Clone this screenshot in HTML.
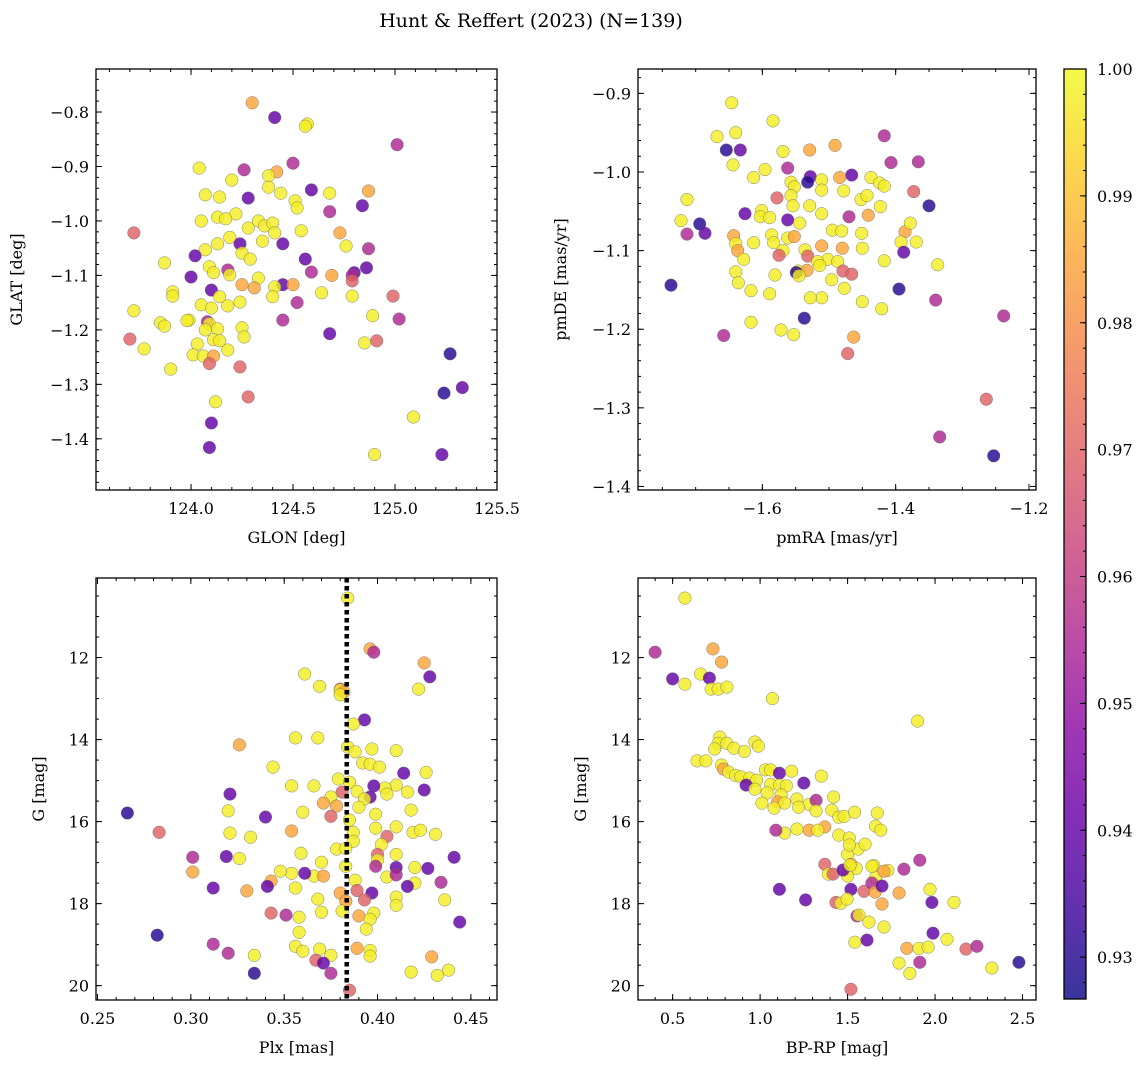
<!DOCTYPE html>
<html><head><meta charset="utf-8"><style>
html,body{margin:0;padding:0;background:#fff;}
svg{display:block;font-family:"DejaVu Serif","Liberation Serif",serif;}
</style></head><body>
<svg id="fig" width="1148" height="1068" viewBox="0 0 1148 1068" xmlns="http://www.w3.org/2000/svg">
<text x="531" y="27" font-size="19" text-anchor="middle">Hunt &amp; Reffert (2023) (N=139)</text>
</svg>
<script>
// ---- data ----
const p1x=[124.30,124.41,125.01,124.57,124.56,124.50,124.04,124.26,124.42,124.38,124.20,124.38,124.87,124.59,124.68,124.07,124.14,124.28,124.44,124.51,124.52,124.84,124.68,124.13,124.22,124.17,124.33,124.05,124.36,124.40,124.28,123.72,124.73,124.41,124.54,124.19,124.35,124.24,124.45,124.13,124.87,124.76,124.07,124.25,124.02,124.56,124.29,123.87,124.09,124.86,124.80,124.79,124.69,124.59,124.18,124.11,124.00,124.33,124.19,124.79,124.25,124.45,124.41,124.31,124.50,124.10,124.64,123.91,123.91,124.79,124.99,124.14,124.40,124.05,124.24,124.52,124.18,124.10,123.72,124.89,125.02,124.45,123.99,124.08,124.09,123.85,123.87,124.13,124.25,124.07,123.98,124.68,124.26,123.70,124.11,124.14,124.91,124.85,124.03,124.18,123.77,124.01,124.06,125.27,124.11,124.09,124.24,123.90,125.33,125.24,124.28,124.12,125.09,124.10,124.09,124.90,125.23];
const p1y=[-0.783,-0.81,-0.86,-0.822,-0.826,-0.894,-0.903,-0.906,-0.91,-0.917,-0.925,-0.938,-0.945,-0.943,-0.949,-0.952,-0.956,-0.958,-0.949,-0.963,-0.976,-0.972,-0.983,-0.993,-0.987,-0.996,-1.0,-1.0,-1.009,-1.004,-1.013,-1.022,-1.022,-1.022,-1.018,-1.03,-1.037,-1.042,-1.042,-1.042,-1.051,-1.046,-1.053,-1.059,-1.064,-1.07,-1.07,-1.077,-1.084,-1.086,-1.095,-1.10,-1.10,-1.094,-1.09,-1.095,-1.103,-1.105,-1.099,-1.11,-1.117,-1.117,-1.121,-1.123,-1.117,-1.127,-1.132,-1.13,-1.138,-1.138,-1.138,-1.139,-1.139,-1.154,-1.149,-1.15,-1.156,-1.16,-1.165,-1.174,-1.18,-1.182,-1.182,-1.185,-1.189,-1.187,-1.193,-1.198,-1.196,-1.2,-1.183,-1.207,-1.213,-1.217,-1.218,-1.22,-1.22,-1.224,-1.226,-1.237,-1.235,-1.246,-1.248,-1.244,-1.248,-1.262,-1.268,-1.272,-1.306,-1.316,-1.323,-1.332,-1.36,-1.371,-1.416,-1.429,-1.429];
const p1c=[.985,.94,.955,.998,.998,.955,.998,.955,.985,.998,.998,.998,.985,.94,.998,.998,.998,.94,.998,.998,.998,.94,.955,.998,.998,.998,.998,.998,.998,.998,.998,.97,.985,.998,.998,.998,.998,.94,.94,.998,.955,.998,.998,.998,.94,.94,.998,.998,.998,.94,.94,.955,.985,.955,.955,.998,.94,.998,.998,.97,.985,.94,.998,.985,.985,.94,.998,.998,.998,.998,.97,.998,.998,.998,.998,.955,.998,.998,.998,.998,.955,.955,.998,.955,.998,.998,.998,.998,.998,.998,.998,.94,.998,.97,.998,.998,.97,.998,.998,.998,.998,.998,.998,.93,.985,.97,.97,.998,.94,.93,.97,.998,.998,.94,.94,.998,.94];

const p2x=[-1.646,-1.584,-1.668,-1.640,-1.654,-1.633,-1.569,-1.529,-1.491,-1.417,-1.562,-1.644,-1.407,-1.366,-1.466,-1.613,-1.596,-1.528,-1.532,-1.511,-1.557,-1.484,-1.437,-1.424,-1.417,-1.373,-1.478,-1.552,-1.511,-1.557,-1.578,-1.713,-1.452,-1.443,-1.350,-1.626,-1.601,-1.554,-1.529,-1.511,-1.470,-1.441,-1.423,-1.603,-1.589,-1.562,-1.544,-1.722,-1.694,-1.495,-1.481,-1.451,-1.386,-1.586,-1.643,-1.713,-1.686,-1.562,-1.552,-1.378,-1.369,-1.392,-1.640,-1.613,-1.583,-1.511,-1.480,-1.450,-1.637,-1.569,-1.536,-1.388,-1.575,-1.532,-1.502,-1.517,-1.487,-1.417,-1.628,-1.514,-1.337,-1.546,-1.479,-1.466,-1.640,-1.533,-1.549,-1.581,-1.545,-1.636,-1.737,-1.496,-1.477,-1.395,-1.617,-1.589,-1.511,-1.528,-1.450,-1.340,-1.421,-1.537,-1.617,-1.238,-1.572,-1.553,-1.658,-1.463,-1.472,-1.264,-1.334,-1.253];
const p2y=[-0.912,-0.935,-0.955,-0.950,-0.972,-0.972,-0.974,-0.972,-0.966,-0.954,-0.995,-0.991,-0.988,-0.987,-1.004,-1.007,-0.997,-1.006,-1.013,-1.010,-1.013,-1.007,-1.007,-1.014,-1.018,-1.025,-1.024,-1.019,-1.023,-1.030,-1.033,-1.035,-1.035,-1.030,-1.043,-1.053,-1.049,-1.043,-1.043,-1.053,-1.057,-1.055,-1.044,-1.057,-1.058,-1.061,-1.065,-1.062,-1.066,-1.074,-1.075,-1.078,-1.076,-1.080,-1.081,-1.079,-1.078,-1.084,-1.082,-1.065,-1.089,-1.089,-1.091,-1.090,-1.090,-1.094,-1.097,-1.097,-1.100,-1.100,-1.099,-1.102,-1.106,-1.107,-1.111,-1.114,-1.114,-1.113,-1.111,-1.119,-1.118,-1.126,-1.126,-1.130,-1.127,-1.125,-1.128,-1.131,-1.132,-1.141,-1.144,-1.137,-1.148,-1.149,-1.151,-1.155,-1.160,-1.160,-1.165,-1.163,-1.174,-1.186,-1.191,-1.183,-1.201,-1.207,-1.208,-1.210,-1.231,-1.289,-1.337,-1.361];
const p2c=[.998,.998,.998,.998,.93,.94,.998,.985,.985,.955,.955,.998,.955,.955,.94,.998,.998,.94,.93,.998,.998,.985,.998,.998,.998,.97,.998,.998,.998,.998,.97,.998,.998,.998,.93,.94,.998,.998,.998,.998,.955,.985,.998,.998,.998,.94,.998,.998,.93,.998,.998,.998,.985,.998,.985,.955,.94,.998,.985,.998,.998,.998,.998,.998,.998,.985,.985,.998,.985,.998,.998,.94,.97,.97,.998,.998,.998,.998,.998,.998,.998,.998,.97,.97,.998,.985,.93,.998,.998,.998,.93,.998,.998,.93,.998,.998,.998,.998,.998,.955,.998,.93,.998,.955,.998,.998,.955,.985,.97,.97,.955,.93];

const p3x=[0.384,0.396,0.398,0.425,0.428,0.361,0.369,0.380,0.380,0.422,0.382,0.380,0.393,0.387,0.356,0.368,0.384,0.388,0.397,0.410,0.326,0.392,0.396,0.401,0.344,0.414,0.426,0.379,0.410,0.385,0.389,0.404,0.354,0.398,0.396,0.405,0.416,0.366,0.381,0.321,0.393,0.375,0.425,0.418,0.399,0.390,0.320,0.378,0.371,0.360,0.266,0.375,0.385,0.399,0.340,0.387,0.405,0.410,0.419,0.431,0.423,0.354,0.387,0.402,0.321,0.283,0.332,0.400,0.378,0.370,0.383,0.383,0.359,0.400,0.410,0.410,0.399,0.354,0.348,0.366,0.388,0.371,0.343,0.301,0.319,0.326,0.361,0.420,0.441,0.427,0.405,0.420,0.434,0.341,0.301,0.410,0.312,0.330,0.380,0.397,0.416,0.389,0.410,0.356,0.368,0.383,0.436,0.410,0.393,0.343,0.351,0.358,0.370,0.398,0.390,0.381,0.396,0.444,0.394,0.358,0.356,0.282,0.312,0.360,0.369,0.389,0.320,0.396,0.334,0.367,0.375,0.396,0.429,0.371,0.334,0.375,0.418,0.438,0.385,0.432];
const p3y=[10.55,11.79,11.87,12.13,12.47,12.40,12.70,12.77,12.79,12.77,12.84,12.91,13.52,13.62,13.96,13.96,14.18,14.30,14.23,14.27,14.13,14.57,14.60,14.67,14.67,14.82,14.80,14.96,15.11,15.04,15.26,15.18,15.13,15.13,15.40,15.33,15.28,15.13,15.28,15.33,15.45,15.40,15.23,15.72,15.82,15.65,15.74,15.62,15.55,15.77,15.79,15.87,15.96,16.16,15.89,16.26,16.36,16.13,16.26,16.31,16.21,16.23,16.48,16.56,16.28,16.26,16.38,16.80,16.67,16.99,16.65,17.09,16.77,16.94,16.80,17.12,17.09,17.26,17.21,17.33,17.43,17.33,17.45,16.87,16.85,16.90,17.26,17.12,16.87,17.14,17.35,17.50,17.48,17.58,17.23,17.30,17.62,17.69,17.74,17.74,17.58,17.68,17.84,17.62,17.89,17.94,17.91,18.04,17.91,18.23,18.28,18.33,18.21,18.23,18.30,18.18,18.38,18.45,18.62,18.70,19.04,18.77,18.99,19.16,19.11,19.09,19.21,19.14,19.26,19.38,19.26,19.28,19.30,19.45,19.70,19.70,19.67,19.62,20.11,19.75];
const p3c=[.998,.985,.955,.985,.94,.998,.998,.97,.998,.998,.985,.998,.94,.998,.998,.998,.998,.998,.998,.998,.985,.998,.998,.998,.998,.94,.998,.998,.998,.998,.998,.998,.998,.94,.94,.998,.998,.998,.97,.94,.998,.998,.94,.998,.998,.998,.998,.985,.985,.998,.93,.97,.998,.998,.94,.998,.97,.998,.998,.998,.998,.985,.998,.998,.998,.97,.998,.97,.998,.998,.998,.998,.998,.998,.998,.94,.955,.998,.998,.998,.998,.985,.985,.955,.94,.998,.94,.998,.94,.94,.998,.998,.955,.94,.985,.955,.94,.985,.985,.94,.94,.97,.998,.998,.998,.985,.998,.998,.97,.97,.955,.998,.998,.998,.985,.998,.998,.94,.998,.998,.998,.93,.955,.998,.998,.985,.955,.998,.998,.97,.998,.998,.985,.94,.93,.955,.998,.998,.97,.998];

const p4x=[0.57,0.40,0.73,0.78,0.50,0.66,0.57,0.71,0.72,0.76,0.81,1.07,1.90,0.77,0.76,0.81,0.85,0.74,0.64,0.69,0.97,0.99,0.91,0.78,0.79,0.82,0.86,1.03,1.06,1.11,1.18,0.89,0.94,0.98,0.92,1.06,1.11,1.15,1.35,1.25,0.97,1.04,1.12,1.10,1.21,1.28,1.32,1.42,1.14,1.22,1.01,1.08,1.32,1.41,1.45,1.48,1.54,1.67,1.66,1.69,1.37,1.28,1.14,1.21,1.33,1.45,1.51,1.09,1.50,1.56,1.60,1.51,1.52,1.65,1.51,1.55,1.50,1.66,1.73,1.37,1.39,1.11,1.26,1.417,1.474,1.514,1.639,1.708,1.822,1.913,1.519,1.594,1.639,1.657,1.697,1.794,1.971,1.982,2.108,1.434,1.462,1.497,1.697,1.554,1.565,1.622,1.708,1.542,1.611,1.988,2.068,1.839,1.908,1.960,2.177,2.239,1.794,1.913,1.856,2.325,2.479,1.519];
const p4y=[10.55,11.87,11.79,12.11,12.52,12.40,12.65,12.50,12.77,12.77,12.72,13.0,13.55,13.94,14.09,14.09,14.21,14.23,14.52,14.52,14.06,14.16,14.29,14.62,14.72,14.79,14.87,14.74,14.74,14.82,14.77,14.91,14.94,14.99,15.11,15.09,15.11,15.13,14.89,15.06,15.21,15.30,15.35,15.52,15.45,15.58,15.48,15.40,15.55,15.65,15.55,15.67,15.74,15.72,15.89,15.87,15.77,15.79,16.11,16.21,16.13,16.21,16.28,16.18,16.21,16.33,16.40,16.21,16.80,16.67,16.55,16.57,17.04,17.07,17.14,17.14,17.33,17.36,17.19,17.04,17.28,17.65,17.91,17.28,17.18,17.06,17.09,17.21,17.16,16.94,17.65,17.70,17.50,17.72,17.57,17.74,17.65,17.97,17.97,17.97,17.99,17.89,18.01,18.30,18.28,18.45,18.57,18.94,18.89,18.72,18.87,19.09,19.09,19.06,19.11,19.04,19.45,19.43,19.70,19.57,19.43,20.09];
const p4c=[.998,.955,.985,.985,.94,.998,.998,.94,.998,.998,.998,.998,.998,.998,.998,.998,.998,.998,.998,.998,.998,.998,.998,.998,.985,.998,.998,.998,.998,.94,.998,.998,.998,.998,.94,.998,.998,.998,.998,.94,.998,.998,.998,.985,.998,.998,.955,.998,.998,.998,.998,.998,.998,.998,.998,.998,.998,.998,.998,.998,.985,.985,.998,.998,.998,.998,.998,.955,.998,.998,.998,.998,.985,.998,.998,.998,.998,.998,.998,.97,.998,.94,.94,.97,.94,.998,.998,.985,.955,.955,.94,.97,.955,.985,.94,.985,.998,.94,.998,.97,.998,.998,.985,.955,.998,.998,.998,.998,.94,.94,.998,.985,.998,.998,.97,.955,.998,.955,.998,.998,.93,.97];

const p1XTicks=[124.0,124.5,125.0,125.5], p1YTicks=[-1.4,-1.3,-1.2,-1.1,-1.0,-0.9,-0.8];
const p2XTicks=[-1.6,-1.4,-1.2], p2YTicks=[-1.4,-1.3,-1.2,-1.1,-1.0,-0.9];
const p3XTicks=[0.25,0.30,0.35,0.40,0.45], gTicks=[12,14,16,18,20];
const p4XTicks=[0.5,1.0,1.5,2.0,2.5];
const cbTicks=[0.93,0.94,0.95,0.96,0.97,0.98,0.99,1.00];
const plxRef=[0.3835];
const cMin=0.9267, cMax=1.0;

// ---- helpers ----
const NS='http://www.w3.org/2000/svg';
const svg=document.getElementById('fig');
function mk(tag,attrs,parent){const e=document.createElementNS(NS,tag);for(const k in attrs)e.setAttribute(k,attrs[k]);(parent||svg).appendChild(e);return e;}
const stops=[[13,8,135],[65,4,157],[106,0,168],[143,13,164],[177,42,144],[204,71,120],[225,100,98],[242,132,75],[252,166,54],[252,206,37],[240,249,33]];
function plasma(t){t=Math.max(0,Math.min(1,t));const f=t*10,i=Math.min(9,Math.floor(f)),r=f-i,a=stops[i],b=stops[i+1];return 'rgb('+a.map((v,k)=>Math.round(v+(b[k]-v)*r)).join(',')+')';}
function fmt(v,d){const s=Math.abs(v).toFixed(d);return (v<0?'\u2212':'')+s;}

const panels=[
 {id:'glon-glat',box:[96,69,497,490],xd:[123.534,125.5],yd:[-0.721,-1.494],xt:p1XTicks,xm:0.1,yt:p1YTicks,ym:0.02,xdec:1,ydec:1,xl:'GLON [deg]',yl:'GLAT [deg]',ylx:22,xs:p1x,ys:p1y,cs:p1c},
 {id:'pmra-pmde',box:[638,69,1036,490],xd:[-1.7865,-1.1895],yd:[-0.869,-1.4045],xt:p2XTicks,xm:0.05,yt:p2YTicks,ym:0.02,xdec:1,ydec:1,xl:'pmRA [mas/yr]',yl:'pmDE [mas/yr]',ylx:566,xs:p2x,ys:p2y,cs:p2c},
 {id:'plx-g',box:[96,578,497,1000],xd:[0.2492,0.464],yd:[10.06,20.35],xt:p3XTicks,xm:0.01,yt:gTicks,ym:0.5,xdec:2,ydec:0,xl:'Plx [mas]',yl:'G [mag]',ylx:44,xs:p3x,ys:p3y,cs:p3c,vline:plxRef},
 {id:'bprp-g',box:[638,578,1036,1000],xd:[0.302,2.577],yd:[10.06,20.35],xt:p4XTicks,xm:0.1,yt:gTicks,ym:0.5,xdec:1,ydec:0,xl:'BP-RP [mag]',yl:'G [mag]',ylx:586,xs:p4x,ys:p4y,cs:p4c}
];

panels.forEach(p=>{
  const [L,T,R,B]=p.box;
  const sx=v=>L+(v-p.xd[0])/(p.xd[1]-p.xd[0])*(R-L);
  const sy=v=>T+(v-p.yd[0])/(p.yd[1]-p.yd[0])*(B-T);
  const g=mk('g',{});
  
  
  const clipId='clip-'+p.id;
  const cp=mk('clipPath',{id:clipId},g);
  mk('rect',{x:L,y:T,width:R-L,height:B-T},cp);
  const pts=mk('g',{'clip-path':'url(#'+clipId+')'},g);
  
  
  const n=Math.min(p.xs.length,p.ys.length,p.cs.length);
  for(let i=0;i<n;i++){
    const c=mk('circle',{cx:sx(p.xs[i]).toFixed(1),cy:sy(p.ys[i]).toFixed(1),r:6.3,fill:plasma((p.cs[i]-cMin)/(cMax-cMin)),'fill-opacity':0.82,stroke:'#666','stroke-width':0.5,'stroke-opacity':0.8},pts);
    
    
  }
  if(p.vline){p.vline.forEach(v=>{
    const l=mk('line',{x1:sx(v),x2:sx(v),y1:T,y2:B,stroke:'#000','stroke-width':4.5,'stroke-dasharray':'4.5,3.5'},g);
    
    
  });}
  const fr=mk('rect',{x:L,y:T,width:R-L,height:B-T,fill:'none',stroke:'#000','stroke-width':1.3},g);
  
  
  // minor ticks
  const ax=mk('g',{stroke:'#000','stroke-width':1},g);
  
  
  const xlo=Math.min(...p.xd),xhi=Math.max(...p.xd),ylo=Math.min(...p.yd),yhi=Math.max(...p.yd);
  for(let k=Math.ceil(xlo/p.xm-1e-6);k*p.xm<=xhi+1e-9;k++){const x=sx(k*p.xm);mk('line',{x1:x,x2:x,y1:B,y2:B-3},ax);mk('line',{x1:x,x2:x,y1:T,y2:T+3},ax);}
  for(let k=Math.ceil(ylo/p.ym-1e-6);k*p.ym<=yhi+1e-9;k++){const y=sy(k*p.ym);mk('line',{x1:L,x2:L+3,y1:y,y2:y},ax);mk('line',{x1:R,x2:R-3,y1:y,y2:y},ax);}
  p.xt.forEach(v=>{const x=sx(v);mk('line',{x1:x,x2:x,y1:B,y2:B-6},ax);mk('line',{x1:x,x2:x,y1:T,y2:T+6},ax);
    const t=mk('text',{x:x,y:B+24,'font-size':16,'text-anchor':'middle'},g);t.textContent=fmt(v,p.xdec);
    
    });
  p.yt.forEach(v=>{const y=sy(v);mk('line',{x1:L,x2:L+6,y1:y,y2:y},ax);mk('line',{x1:R,x2:R-6,y1:y,y2:y},ax);
    const t=mk('text',{x:L-7,y:y+6,'font-size':16,'text-anchor':'end'},g);t.textContent=fmt(v,p.ydec);
    
    });
  const xl=mk('text',{x:(L+R)/2,y:B+53,'font-size':16,'text-anchor':'middle'},g);xl.textContent=p.xl;
  
  
  const yl=mk('text',{x:p.ylx,y:(T+B)/2,'font-size':16,'text-anchor':'middle',transform:'rotate(-90 '+p.ylx+' '+((T+B)/2)+')'},g);yl.textContent=p.yl;
  
  
});

// colorbar
(function(){
  const L=1064,R=1086,T=69,B=999;
  const cy=v=>B-(v-cMin)/(cMax-cMin)*(B-T);
  const defs=mk('defs',{});
  const lg=mk('linearGradient',{id:'cbgrad',x1:0,y1:1,x2:0,y2:0},defs);
  for(let i=0;i<=20;i++){mk('stop',{offset:(i/20),'stop-color':plasma(i/20),'stop-opacity':0.82},lg);}
  const g=mk('g',{});
  
  
  mk('rect',{x:L,y:T,width:R-L,height:B-T,fill:'url(#cbgrad)',stroke:'#000','stroke-width':1.3},g);
  for(let k=Math.ceil(cMin/0.002);k*0.002<=cMax+1e-9;k++){const y=cy(k*0.002);mk('line',{x1:R,x2:R-3,y1:y,y2:y,stroke:'#000'},g);}
  cbTicks.forEach(v=>{const y=cy(v);mk('line',{x1:R,x2:R-6,y1:y,y2:y,stroke:'#000'},g);
    const t=mk('text',{x:R+11,y:y+6,'font-size':16},g);t.textContent=v.toFixed(2);
    
    });
})();
</script>
</body></html>
